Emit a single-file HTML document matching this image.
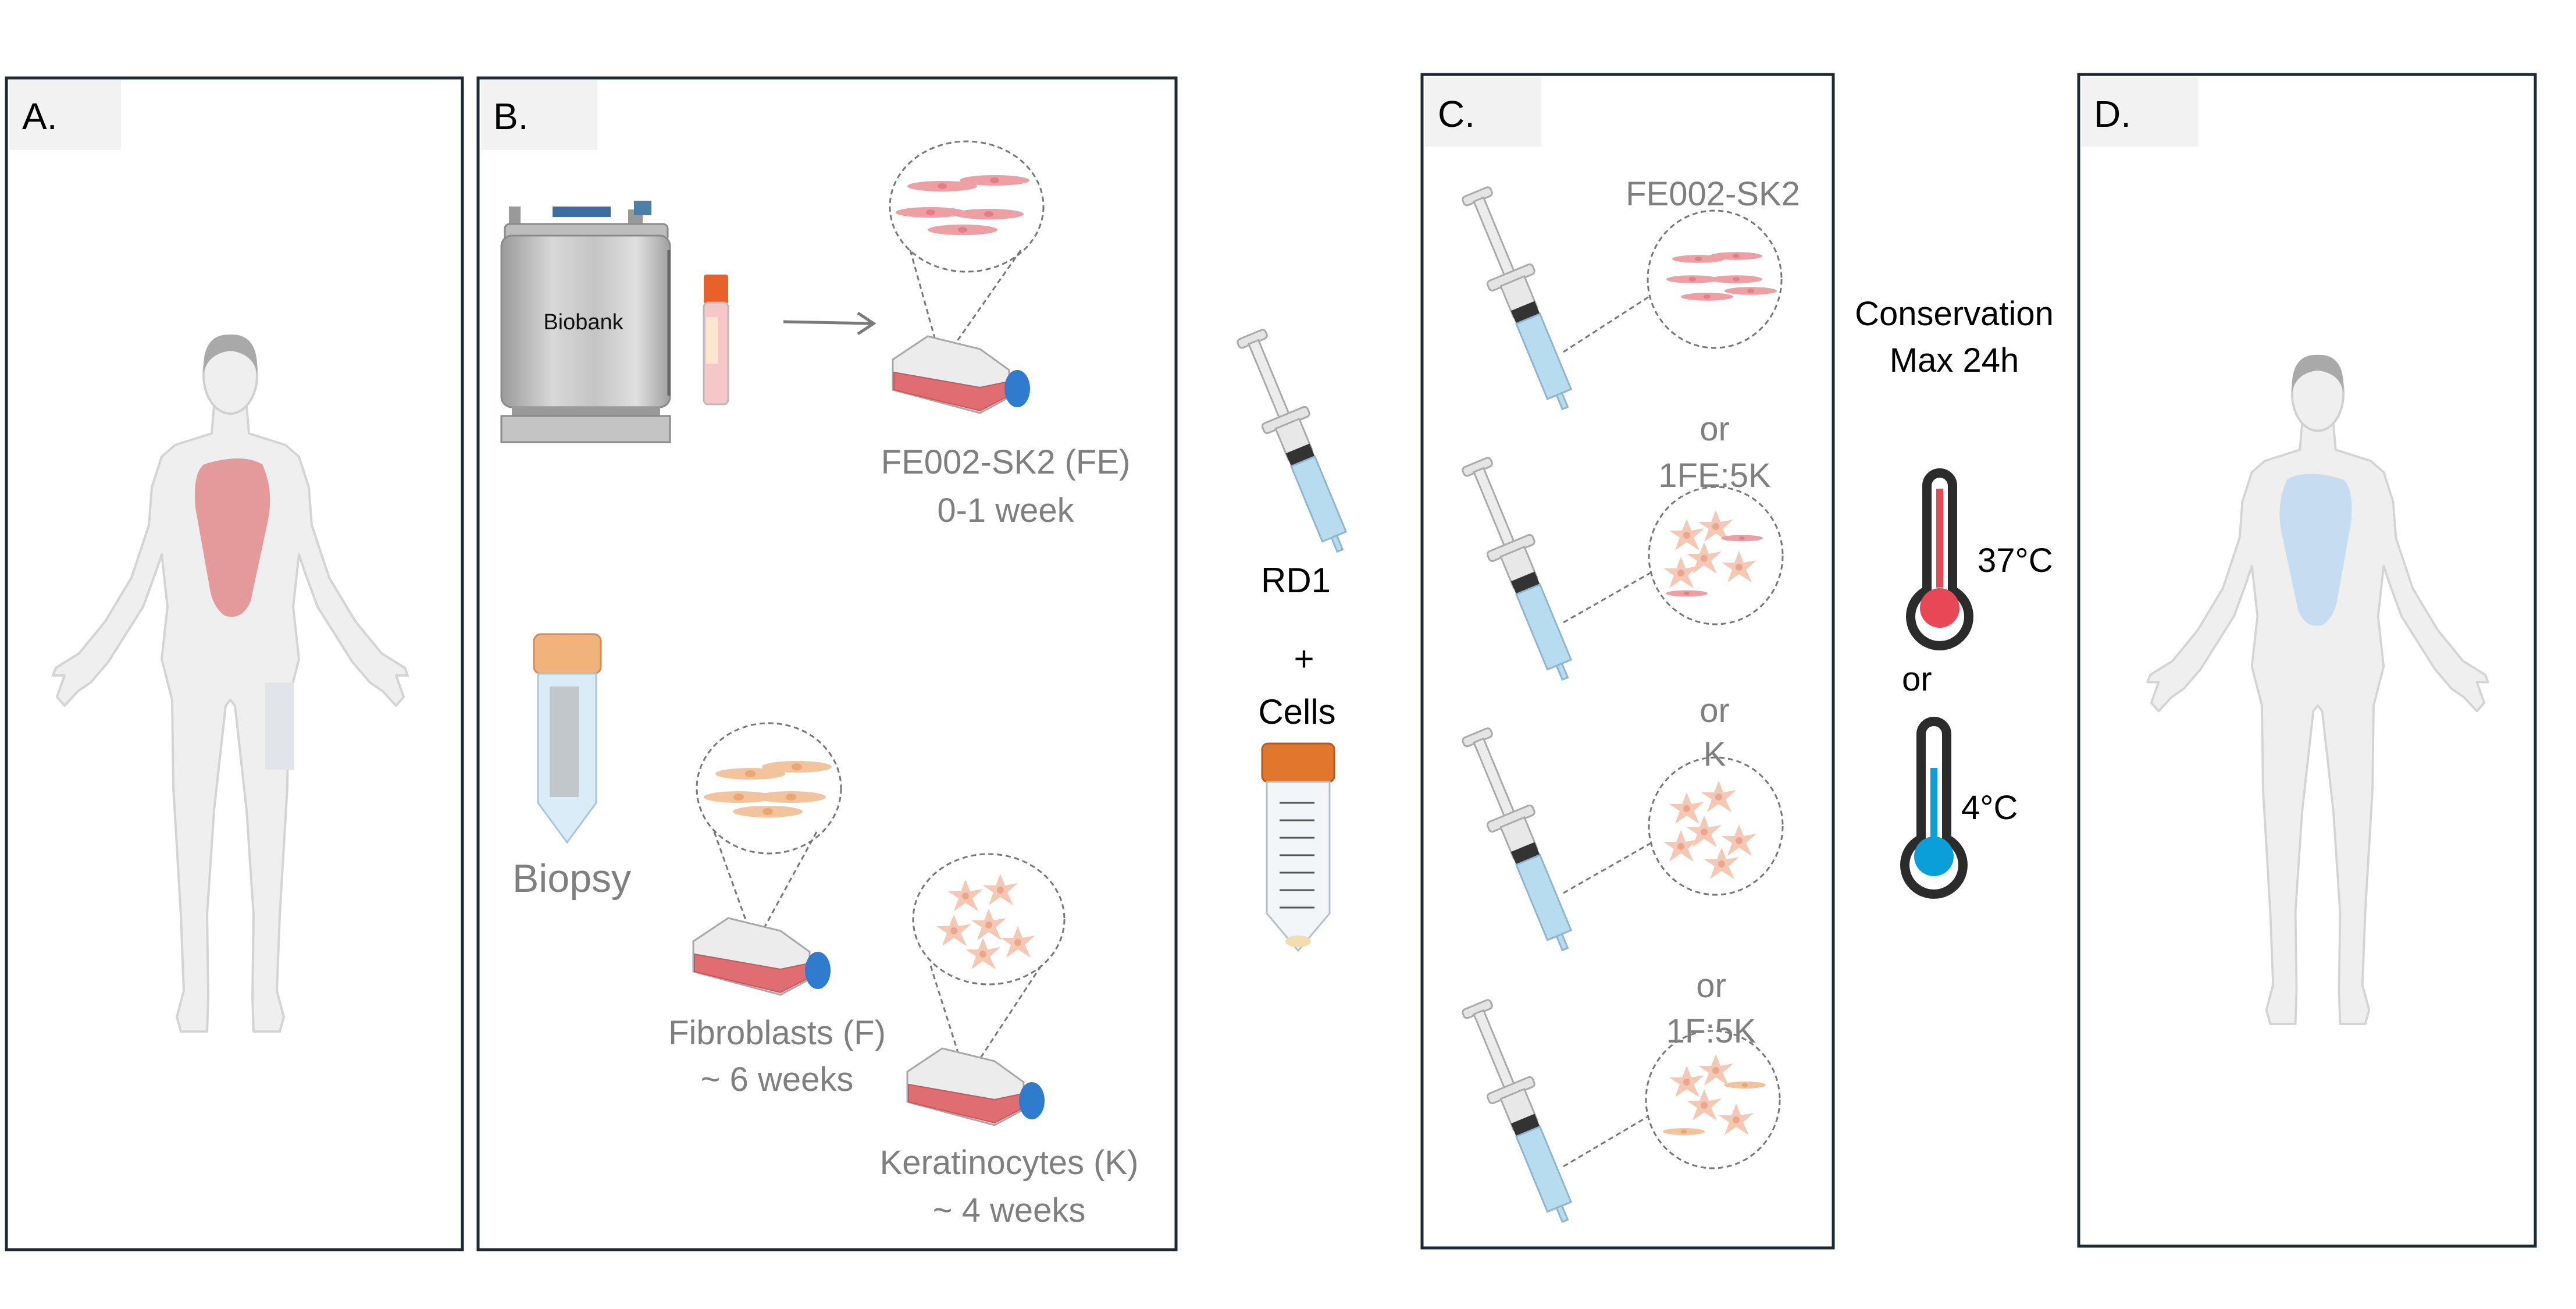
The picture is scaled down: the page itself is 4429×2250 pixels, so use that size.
<!DOCTYPE html>
<html><head><meta charset="utf-8"><style>
html,body{margin:0;padding:0;background:#fff;}
svg{display:block;font-family:"Liberation Sans",sans-serif;}
</style></head><body>
<svg width="4429" height="2250" viewBox="0 0 4429 2250" xmlns="http://www.w3.org/2000/svg">
<defs>
<linearGradient id="tank" x1="0" x2="1" y1="0" y2="0">
<stop offset="0" stop-color="#9a9a9a"/><stop offset="0.3" stop-color="#d8d8d8"/><stop offset="0.55" stop-color="#c4c4c4"/><stop offset="0.8" stop-color="#e0e0e0"/><stop offset="1" stop-color="#a0a0a0"/>
</linearGradient>
<g id="body">
<polygon points="28,125 32,172 95,192 118,212 135,265 140,330 170,420 215,495 260,550 300,575 305,588 285,588 298,625 285,640 262,615 240,600 210,565 150,470 128,410 118,380 108,470 118,560 100,630 98,780 85,1000 80,1130 92,1175 85,1200 40,1200 38,1140 40,1000 28,820 8,640 0,630 -8,640 -28,820 -40,1000 -38,1140 -40,1200 -85,1200 -92,1175 -80,1130 -85,1000 -98,780 -100,630 -118,560 -108,470 -118,380 -128,410 -150,470 -210,565 -240,600 -262,615 -285,640 -298,625 -285,588 -305,588 -300,575 -260,550 -215,495 -170,420 -140,330 -135,265 -118,212 -95,192 -32,172 -28,125" fill="#efefef" stroke="#d4d4d4" stroke-width="4" stroke-linejoin="round"/>
<ellipse cx="0" cy="72" rx="46" ry="66" fill="#efefef" stroke="#d0d0d0" stroke-width="4"/>
<path d="M-46 70 Q-50 0 0 2 Q50 0 46 70 Q40 35 0 30 Q-40 35 -46 70Z" fill="#a9a9a9"/>
</g>
<g id="flask">
<polygon points="0,40 60,0 150,22 200,58 200,105 150,132 0,92" fill="#ececec" stroke="#a8a8a8" stroke-width="3"/>
<polygon points="2,62 150,88 198,78 198,103 150,128 2,92" fill="#e06d71" stroke="#c85559" stroke-width="2"/>
<ellipse cx="214" cy="90" rx="22" ry="32" fill="#2f7ccf"/>
</g>
<g id="syr">
<rect x="-26" y="0" width="52" height="16" rx="6" fill="#e4e4e4" stroke="#aaa" stroke-width="3"/>
<rect x="-9" y="14" width="18" height="150" fill="#ececec" stroke="#aaa" stroke-width="3"/>
<rect x="-42" y="150" width="84" height="18" rx="6" fill="#e4e4e4" stroke="#aaa" stroke-width="3"/>
<rect x="-22" y="166" width="44" height="58" fill="#e8e8e8" stroke="#aaa" stroke-width="3"/>
<rect x="-22" y="212" width="44" height="24" fill="#333"/>
<rect x="-22" y="236" width="44" height="140" fill="#b8dcef" stroke="#8fb6cc" stroke-width="3"/>
<rect x="-5" y="376" width="10" height="26" fill="#b8dcef" stroke="#8fb6cc" stroke-width="3"/>
</g>
<g id="fecell"><ellipse cx="0" cy="0" rx="60" ry="9" fill="#ed9fa4"/><ellipse cx="0" cy="0" rx="8" ry="5" fill="#e07f86"/></g>
<g id="fbcell"><ellipse cx="0" cy="0" rx="60" ry="10" fill="#f2c49c"/><ellipse cx="0" cy="0" rx="9" ry="6" fill="#e9a873"/></g>
<g id="kcell"><polygon points="0,-28 8,-8 30,-12 12,4 22,26 0,12 -20,26 -12,4 -30,-8 -8,-8" fill="#f4c8b3"/><circle r="6" fill="#e9a78c"/></g>
<g id="therm">
<path d="M-22 -210 a22 22 0 0 1 44 0 V-30 a50 50 0 1 1 -44 0 Z" fill="#fff" stroke="#2b2b2b" stroke-width="16" stroke-linejoin="round"/>
</g>
</defs>

<!-- Panels -->
<rect x="11" y="134" width="784" height="2014" fill="#fff" stroke="#1b2a35" stroke-width="5"/>
<rect x="822" y="134" width="1200" height="2014" fill="#fff" stroke="#1b2a35" stroke-width="5"/>
<rect x="2445" y="128" width="707" height="2017" fill="#fff" stroke="#1b2a35" stroke-width="5"/>
<rect x="3574" y="128" width="785" height="2014" fill="#fff" stroke="#1b2a35" stroke-width="5"/>
<rect x="16" y="138" width="192" height="120" fill="#f2f2f2"/>
<rect x="827" y="138" width="200" height="120" fill="#f2f2f2"/>
<rect x="2450" y="132" width="200" height="120" fill="#f2f2f2"/>
<rect x="3579" y="132" width="200" height="120" fill="#f2f2f2"/>
<g font-size="64" fill="#000">
<text x="38" y="222">A.</text>
<text x="848" y="222">B.</text>
<text x="2472" y="218">C.</text>
<text x="3600" y="218">D.</text>
</g>

<!-- A body -->
<g transform="translate(396,573)">
<use href="#body"/>
<path d="M-45 225 Q20 205 55 225 Q75 270 65 320 L35 460 Q20 495 -10 485 Q-30 470 -35 440 L-60 300 Q-65 240 -45 225Z" fill="#e4999b"/>
<rect x="60" y="600" width="50" height="150" fill="#e1e4e8"/>
</g>
<!-- D body -->
<g transform="translate(3985,608) scale(0.96)">
<use href="#body"/>
<path d="M45 225 Q-20 205 -55 225 Q-75 270 -65 320 L-35 460 Q-20 495 10 485 Q30 470 35 440 L60 300 Q65 240 45 225Z" fill="#c6ddf1"/>
</g>

<!-- B: biobank -->
<rect x="875" y="355" width="20" height="40" fill="#999"/>
<rect x="1080" y="360" width="25" height="30" fill="#999"/>
<rect x="1090" y="345" width="30" height="25" fill="#4a7fa6"/>
<rect x="950" y="355" width="100" height="18" fill="#3e6ea0"/>
<rect x="868" y="385" width="280" height="30" rx="8" fill="#bdbdbd" stroke="#8a8a8a" stroke-width="3"/>
<rect x="862" y="405" width="290" height="295" rx="18" fill="url(#tank)" stroke="#8a8a8a" stroke-width="3"/>
<rect x="880" y="700" width="255" height="20" fill="#999"/>
<rect x="862" y="715" width="290" height="45" fill="#c4c4c4" stroke="#8a8a8a" stroke-width="3"/>
<line x1="1150" y1="430" x2="1150" y2="680" stroke="#666" stroke-width="5"/>
<text x="1003" y="566" font-size="38" text-anchor="middle" fill="#111">Biobank</text>
<!-- vial -->
<rect x="1210" y="472" width="42" height="50" rx="4" fill="#e8612a"/>
<rect x="1210" y="520" width="42" height="175" rx="8" fill="#f6c7c9" stroke="#bbb" stroke-width="3"/>
<rect x="1214" y="545" width="20" height="80" fill="#fde6cf"/>
<!-- arrow -->
<line x1="1347" y1="553" x2="1500" y2="556" stroke="#7a7a7a" stroke-width="5"/>
<polyline points="1475,538 1502,556 1475,574" fill="none" stroke="#7a7a7a" stroke-width="5"/>
<!-- FE circle + flask -->
<ellipse cx="1662" cy="355" rx="132" ry="112" fill="none" stroke="#777" stroke-width="3" stroke-dasharray="9,6"/>
<use href="#fecell" transform="translate(1620,320)"/><use href="#fecell" transform="translate(1710,310)"/>
<use href="#fecell" transform="translate(1600,365)"/><use href="#fecell" transform="translate(1700,368)"/>
<use href="#fecell" transform="translate(1655,395)"/>
<line x1="1565" y1="430" x2="1618" y2="620" stroke="#777" stroke-width="3" stroke-dasharray="9,6"/>
<line x1="1755" y1="430" x2="1622" y2="620" stroke="#777" stroke-width="3" stroke-dasharray="9,6"/>
<use href="#flask" transform="translate(1535,578)"/>
<g font-size="58" fill="#7f7f7f" text-anchor="middle">
<text x="1729" y="814">FE002-SK2 (FE)</text>
<text x="1729" y="897">0-1 week</text>
<text x="983" y="1533" font-size="68">Biopsy</text>
<text x="1336" y="1795">Fibroblasts (F)</text>
<text x="1336" y="1875">~ 6 weeks</text>
<text x="1735" y="2018">Keratinocytes (K)</text>
<text x="1735" y="2100">~ 4 weeks</text>
</g>
<!-- biopsy tube -->
<rect x="918" y="1090" width="115" height="68" rx="12" fill="#f2b27c" stroke="#d08a55" stroke-width="3"/>
<path d="M925 1158 H1025 V1380 L975 1448 L925 1380Z" fill="#d9ecf7" stroke="#a7c7db" stroke-width="3"/>
<rect x="945" y="1180" width="50" height="190" fill="#b8b8b8" opacity="0.7"/>
<!-- fibroblast -->
<ellipse cx="1322" cy="1355" rx="124" ry="112" fill="none" stroke="#777" stroke-width="3" stroke-dasharray="9,6"/>
<use href="#fbcell" transform="translate(1290,1330)"/><use href="#fbcell" transform="translate(1370,1318)"/>
<use href="#fbcell" transform="translate(1270,1370)"/><use href="#fbcell" transform="translate(1360,1370)"/>
<use href="#fbcell" transform="translate(1320,1395)"/>
<line x1="1228" y1="1430" x2="1296" y2="1620" stroke="#777" stroke-width="3" stroke-dasharray="9,6"/>
<line x1="1404" y1="1430" x2="1300" y2="1620" stroke="#777" stroke-width="3" stroke-dasharray="9,6"/>
<use href="#flask" transform="translate(1192,1578)"/>
<!-- keratinocyte -->
<ellipse cx="1700" cy="1580" rx="130" ry="112" fill="none" stroke="#777" stroke-width="3" stroke-dasharray="9,6"/>
<use href="#kcell" transform="translate(1660,1540)"/><use href="#kcell" transform="translate(1720,1530)"/>
<use href="#kcell" transform="translate(1700,1590)"/><use href="#kcell" transform="translate(1640,1600)"/>
<use href="#kcell" transform="translate(1750,1620)"/><use href="#kcell" transform="translate(1690,1640)"/>
<line x1="1600" y1="1660" x2="1660" y2="1850" stroke="#777" stroke-width="3" stroke-dasharray="9,6"/>
<line x1="1790" y1="1660" x2="1665" y2="1850" stroke="#777" stroke-width="3" stroke-dasharray="9,6"/>
<use href="#flask" transform="translate(1560,1802)"/>

<!-- middle RD1 + cells -->
<use href="#syr" transform="translate(2150,575) rotate(-22.5)"/>
<g font-size="60" fill="#000" text-anchor="middle">
<text x="2228" y="1018">RD1</text>
<text x="2242" y="1153">+</text>
<text x="2230" y="1244">Cells</text>
</g>
<rect x="2170" y="1278" width="124" height="66" rx="10" fill="#e0772c" stroke="#b95a1a" stroke-width="3"/>
<path d="M2178 1344 H2286 V1570 L2232 1634 L2178 1570Z" fill="#f3f6f8" stroke="#b5c0c8" stroke-width="3"/>
<g stroke="#555" stroke-width="3">
<line x1="2200" y1="1380" x2="2260" y2="1380"/><line x1="2200" y1="1410" x2="2260" y2="1410"/><line x1="2200" y1="1440" x2="2260" y2="1440"/><line x1="2200" y1="1470" x2="2260" y2="1470"/><line x1="2200" y1="1500" x2="2260" y2="1500"/><line x1="2200" y1="1530" x2="2260" y2="1530"/><line x1="2200" y1="1560" x2="2260" y2="1560"/>
</g>
<ellipse cx="2232" cy="1618" rx="22" ry="10" fill="#f1ddb0"/>

<!-- C: syringes -->
<use href="#syr" transform="translate(2537,330) rotate(-22.5)"/>
<use href="#syr" transform="translate(2537,795) rotate(-22.5)"/>
<use href="#syr" transform="translate(2537,1260) rotate(-22.5)"/>
<use href="#syr" transform="translate(2537,1727) rotate(-22.5)"/>
<g fill="none" stroke="#777" stroke-width="3" stroke-dasharray="9,6">
<ellipse cx="2948" cy="480" rx="115" ry="118"/>
<ellipse cx="2950" cy="955" rx="115" ry="118"/>
<ellipse cx="2950" cy="1420" rx="115" ry="118"/>
<ellipse cx="2945" cy="1890" rx="115" ry="118"/>
<line x1="2688" y1="605" x2="2835" y2="510"/>
<line x1="2688" y1="1070" x2="2837" y2="985"/>
<line x1="2688" y1="1535" x2="2837" y2="1450"/>
<line x1="2688" y1="2005" x2="2832" y2="1920"/>
</g>
<use href="#fecell" transform="translate(2920,445) scale(0.75)"/><use href="#fecell" transform="translate(2985,440) scale(0.75)"/>
<use href="#fecell" transform="translate(2910,480) scale(0.75)"/><use href="#fecell" transform="translate(2985,480) scale(0.75)"/>
<use href="#fecell" transform="translate(2935,510) scale(0.75)"/><use href="#fecell" transform="translate(3010,500) scale(0.75)"/>
<use href="#kcell" transform="translate(2900,920)"/><use href="#kcell" transform="translate(2950,905)"/>
<use href="#kcell" transform="translate(2930,960)"/><use href="#kcell" transform="translate(2990,975)"/>
<use href="#kcell" transform="translate(2890,985)"/><use href="#fecell" transform="translate(2995,925) scale(0.6)"/>
<use href="#fecell" transform="translate(2900,1020) scale(0.6)"/>
<use href="#kcell" transform="translate(2900,1390)"/><use href="#kcell" transform="translate(2955,1370)"/>
<use href="#kcell" transform="translate(2930,1430)"/><use href="#kcell" transform="translate(2990,1445)"/>
<use href="#kcell" transform="translate(2890,1455)"/><use href="#kcell" transform="translate(2960,1485)"/>
<use href="#kcell" transform="translate(2900,1860)"/><use href="#kcell" transform="translate(2950,1840)"/>
<use href="#kcell" transform="translate(2930,1900)"/><use href="#kcell" transform="translate(2985,1925)"/>
<use href="#fbcell" transform="translate(3000,1865) scale(0.6)"/><use href="#fbcell" transform="translate(2895,1945) scale(0.6)"/>
<g font-size="58" fill="#7f7f7f" text-anchor="middle">
<text x="2945" y="353">FE002-SK2</text>
<text x="2948" y="757">or</text>
<text x="2948" y="837">1FE:5K</text>
<text x="2948" y="1241">or</text>
<text x="2948" y="1316">K</text>
<text x="2942" y="1714">or</text>
<text x="2942" y="1792">1F:5K</text>
</g>

<!-- conservation -->
<g font-size="58" fill="#000">
<text x="3360" y="559" text-anchor="middle">Conservation</text>
<text x="3360" y="639" text-anchor="middle">Max 24h</text>
<text x="3400" y="983">37°C</text>
<text x="3270" y="1187">or</text>
<text x="3372" y="1408">4°C</text>
</g>
<use href="#therm" transform="translate(3335,1045)"/>
<rect x="3329" y="840" width="12" height="170" fill="#e84855"/>
<circle cx="3335" cy="1045" r="34" fill="#e84855"/>
<use href="#therm" transform="translate(3325,1472)"/>
<rect x="3319" y="1320" width="12" height="120" fill="#0a9fd8"/>
<circle cx="3325" cy="1472" r="34" fill="#0a9fd8"/>
</svg>
</body></html>
